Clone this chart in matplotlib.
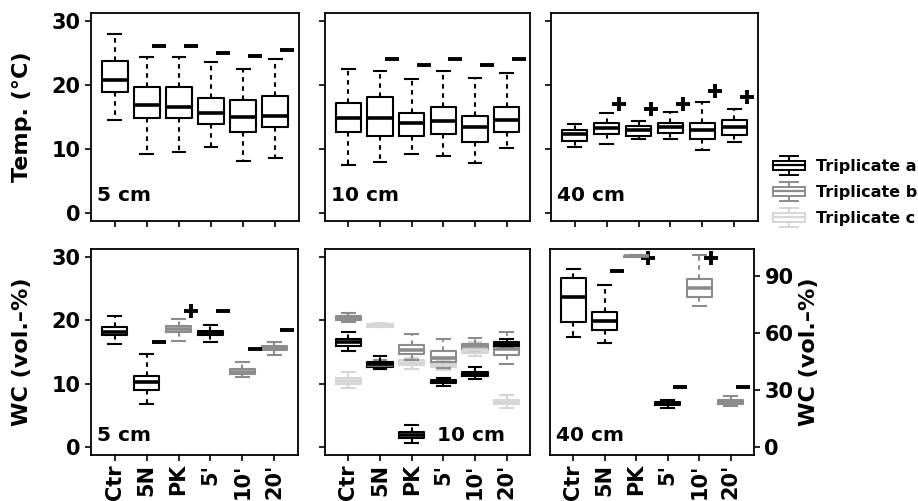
import numpy as np
import matplotlib.pyplot as plt
from matplotlib.lines import Line2D
from matplotlib.patches import Rectangle
from matplotlib.legend_handler import HandlerBase

plt.rcParams['font.family'] = ['DejaVu Sans']
plt.rcParams['font.weight'] = 'bold'
plt.rcParams['axes.labelweight'] = 'bold'

categories = ["Ctr", "5N", "PK", "5'", "10'", "20'"]

# rows: [whisker low, q1, median, q3, whisker high] per category (None = not drawn)
temp_5cm_a = [[14.5, 18.9, 20.8, 23.8, 27.9], [9.2, 14.9, 16.8, 19.6, 24.3],
              [9.6, 14.9, 16.6, 19.7, 24.3], [10.3, 13.9, 15.7, 18.0, 23.5],
              [8.2, 12.6, 15.0, 17.6, 22.4], [8.6, 13.5, 15.1, 18.2, 24.0]]
temp_10cm_a = [[7.6, 12.6, 14.9, 17.2, 22.5], [8.0, 12.0, 14.8, 18.1, 22.1],
               [9.2, 12.0, 14.0, 15.7, 20.9], [9.0, 12.3, 14.3, 16.5, 22.2],
               [7.8, 11.1, 13.5, 15.2, 21.0], [10.1, 12.7, 14.5, 16.6, 21.8]]
temp_40cm_a = [[10.4, 11.3, 12.3, 13.0, 13.9], [10.8, 12.3, 13.3, 14.1, 15.7],
               [11.5, 12.1, 13.0, 13.6, 14.3], [11.6, 12.5, 13.4, 14.0, 15.8],
               [9.8, 11.6, 12.9, 14.0, 17.3], [11.1, 12.2, 13.5, 14.6, 16.3]]

wc_5cm_a = [[16.3, 17.6, 18.2, 18.9, 20.6], [6.8, 9.0, 10.3, 11.3, 14.7], None,
            [16.5, 17.6, 18.0, 18.3, 19.3], None, None]
wc_5cm_b = [None, None, [16.8, 18.1, 18.6, 19.1, 20.2], None,
            [11.0, 11.5, 11.9, 12.3, 13.5], [14.6, 15.3, 15.6, 16.0, 16.5]]

wc_10cm_a = [[15.2, 16.0, 16.5, 17.0, 18.2], [12.3, 12.7, 13.1, 13.4, 14.4],
             [0.7, 1.4, 1.9, 2.4, 3.5], [9.7, 10.1, 10.3, 10.6, 10.9],
             [10.7, 11.2, 11.5, 11.9, 12.6], [15.6, 16.0, 16.2, 16.5, 17.0]]
wc_10cm_b = [[19.7, 20.0, 20.3, 20.7, 21.1], [12.4, 12.6, 13.0, 13.4, 13.7],
             [13.8, 14.7, 15.3, 16.1, 17.9], [12.5, 13.5, 14.1, 15.1, 17.1],
             [15.1, 15.5, 15.9, 16.3, 17.2], [13.1, 14.5, 15.5, 16.1, 18.1]]
wc_10cm_c = [[9.3, 10.0, 10.4, 10.9, 11.9], [18.9, 19.0, 19.2, 19.4, 19.5],
             [12.3, 13.0, 13.3, 13.7, 14.0], [12.1, 12.6, 13.0, 13.3, 13.7],
             [14.3, 14.8, 15.3, 15.9, 16.6], [6.2, 6.8, 7.2, 7.5, 8.2]]

wc_40cm_a = [[57.8, 65.7, 79.0, 88.6, 93.5], [54.6, 61.7, 66.1, 71.2, 85.2], None,
             [20.9, 22.1, 22.9, 23.6, 25.0], None, None]
wc_40cm_b = [None, None, [99.8, 100.0, 100.2, 100.4, 100.6], None,
             [74.1, 79.0, 83.8, 88.2, 100.6], [21.8, 22.7, 23.7, 24.8, 27.1]]

# significance signs beside each box
temp_5cm_sign = ["", "-", "-", "-", "-", "-"]
temp_5cm_sign_y = [np.nan, 26.0, 26.0, 25.0, 24.5, 25.5]
temp_10cm_sign = ["", "-", "-", "-", "-", "-"]
temp_10cm_sign_y = [np.nan, 24.1, 23.1, 24.1, 23.1, 24.1]
temp_40cm_sign = ["", "+", "+", "+", "+", "+"]
temp_40cm_sign_y = [np.nan, 17.0, 16.2, 17.0, 19.1, 18.1]
wc_5cm_sign = ["", "-", "+", "-", "-", "-"]
wc_5cm_sign_y = [np.nan, 16.5, 21.4, 21.5, 15.5, 18.4]
wc_40cm_sign = ["", "-", "+", "-", "+", "-"]
wc_40cm_sign_y = [np.nan, 92.7, 99.4, 31.5, 99.4, 31.5]

trip_labels = ["Triplicate a", "Triplicate b", "Triplicate c"]
trip_colors = ["#000000", "#8c8c8c", "#d6d6d6"]

W, H = 918, 501
fig = plt.figure(figsize=(W / 100, H / 100), dpi=100)


def add_ax(x0, y0, x1, y1):
    return fig.add_axes([x0 / W, 1 - y1 / H, (x1 - x0) / W, (y1 - y0) / H])


def draw_boxes(ax, rows, color):
    stats, pos = [], []
    for i, r in enumerate(rows):
        if r is None:
            continue
        lo, q1, med, q3, hi = r
        stats.append(dict(whislo=lo, q1=q1, med=med, q3=q3, whishi=hi, fliers=[]))
        pos.append(i + 1)
    ax.bxp(stats, positions=pos, widths=0.8, capwidths=0.4, manage_ticks=False,
           boxprops=dict(color=color, lw=1.5),
           whiskerprops=dict(color=color, lw=1.5, ls=(0, (2.2, 2.2))),
           capprops=dict(color=color, lw=1.5),
           medianprops=dict(color=color, lw=2.6, solid_capstyle='butt'))


def draw_signs(ax, signs, ys):
    for i, (s, y) in enumerate(zip(signs, ys)):
        if s:
            ax.plot(i + 1 + 0.38, y, marker='+' if s == '+' else '_', ms=9.5,
                    mew=2.8, color='k', clip_on=False)


def setup(ax, xlabels=False, ylabels=True, right=False):
    ax.set_xlim(0.26, 6.74)
    ax.set_xticks(range(1, 7))
    ax.set_xticklabels(categories if xlabels else [], rotation=90)
    ax.tick_params(direction='out', length=4.5, width=1.2, labelsize=15, pad=2)
    ax.tick_params(axis='y', pad=3)
    for sp in ax.spines.values():
        sp.set_linewidth(1.3)
    if right:
        ax.yaxis.tick_right()
        ax.yaxis.set_label_position('right')
    elif not ylabels:
        ax.set_yticklabels([])


def panel_label(ax, text, y, x=0.03, ha='left'):
    ax.text(x, y, text, transform=ax.transAxes, fontsize=14.5, ha=ha, va='baseline')


# top row: temperature
ax1 = add_ax(91, 13, 299, 221)
ax2 = add_ax(325, 13, 530, 221)
ax3 = add_ax(551, 13, 758, 221)
for ax, rows, signs, sy, lab in [(ax1, temp_5cm_a, temp_5cm_sign, temp_5cm_sign_y, "5 cm"),
                                 (ax2, temp_10cm_a, temp_10cm_sign, temp_10cm_sign_y, "10 cm"),
                                 (ax3, temp_40cm_a, temp_40cm_sign, temp_40cm_sign_y, "40 cm")]:
    draw_boxes(ax, rows, trip_colors[0])
    draw_signs(ax, signs, sy)
    ax.set_ylim(-1.2, 31.2)
    ax.set_yticks([0, 10, 20, 30])
    setup(ax, ylabels=(ax is ax1))
    panel_label(ax, lab, 0.098)
ax1.set_ylabel("Temp. (°C)", fontsize=16)
ax1.yaxis.set_label_coords(-0.285, 0.5)

# bottom row: water content
ax4 = add_ax(91, 249, 298, 455)
ax5 = add_ax(325, 249, 530, 455)
ax6 = add_ax(550, 249, 754, 455)

draw_boxes(ax4, wc_5cm_b, trip_colors[1])
draw_boxes(ax4, wc_5cm_a, trip_colors[0])
draw_signs(ax4, wc_5cm_sign, wc_5cm_sign_y)

draw_boxes(ax5, wc_10cm_c, trip_colors[2])
draw_boxes(ax5, wc_10cm_b, trip_colors[1])
draw_boxes(ax5, wc_10cm_a, trip_colors[0])

draw_boxes(ax6, wc_40cm_b, trip_colors[1])
draw_boxes(ax6, wc_40cm_a, trip_colors[0])
draw_signs(ax6, wc_40cm_sign, wc_40cm_sign_y)

for ax in (ax4, ax5):
    ax.set_ylim(-1.2, 31.2)
    ax.set_yticks([0, 10, 20, 30])
setup(ax4, xlabels=True)
setup(ax5, xlabels=True, ylabels=False)
ax6.set_ylim(-4, 104)
ax6.set_yticks([0, 30, 60, 90])
setup(ax6, xlabels=True, right=True)

panel_label(ax4, "5 cm", 0.068)
panel_label(ax5, "10 cm", 0.068, x=0.878, ha='right')
panel_label(ax6, "40 cm", 0.068)

ax4.set_ylabel("WC (vol.–%)", fontsize=16)
ax4.yaxis.set_label_coords(-0.285, 0.5)
ax6.set_ylabel("WC (vol.–%)", fontsize=16)
ax6.yaxis.set_label_coords(1.22, 0.5)


class MiniBox(HandlerBase):
    def create_artists(self, legend, orig_handle, xdescent, ydescent, width, height,
                       fontsize, trans):
        c = orig_handle.get_color()
        x0 = -xdescent
        xm = x0 + width / 2
        ym = -ydescent + height / 2
        bh = 3.3
        ch = 6.8
        cw = width * 0.27
        arts = [Rectangle((x0, ym - bh), width, 2 * bh, fill=False, ec=c, lw=1.4),
                Line2D([x0, x0 + width], [ym, ym], color=c, lw=1.6),
                Line2D([xm - cw, xm + cw], [ym + ch, ym + ch], color=c, lw=1.4),
                Line2D([xm - cw, xm + cw], [ym - ch, ym - ch], color=c, lw=1.4),
                Line2D([xm, xm], [ym + bh, ym + ch], color=c, lw=1.4),
                Line2D([xm, xm], [ym - bh, ym - ch], color=c, lw=1.4)]
        for a in arts:
            a.set_transform(trans)
        return arts


handles = [Line2D([], [], color=c) for c in trip_colors]
fig.legend(handles, trip_labels, handler_map={Line2D: MiniBox()}, loc='upper left',
           bbox_to_anchor=(773 / W, 1 - 159 / H), frameon=False, fontsize=11.5,
           handlelength=2.0, handletextpad=0.7, labelspacing=0.68, borderpad=0,
           borderaxespad=0)

fig.savefig('out.png', dpi=100)
